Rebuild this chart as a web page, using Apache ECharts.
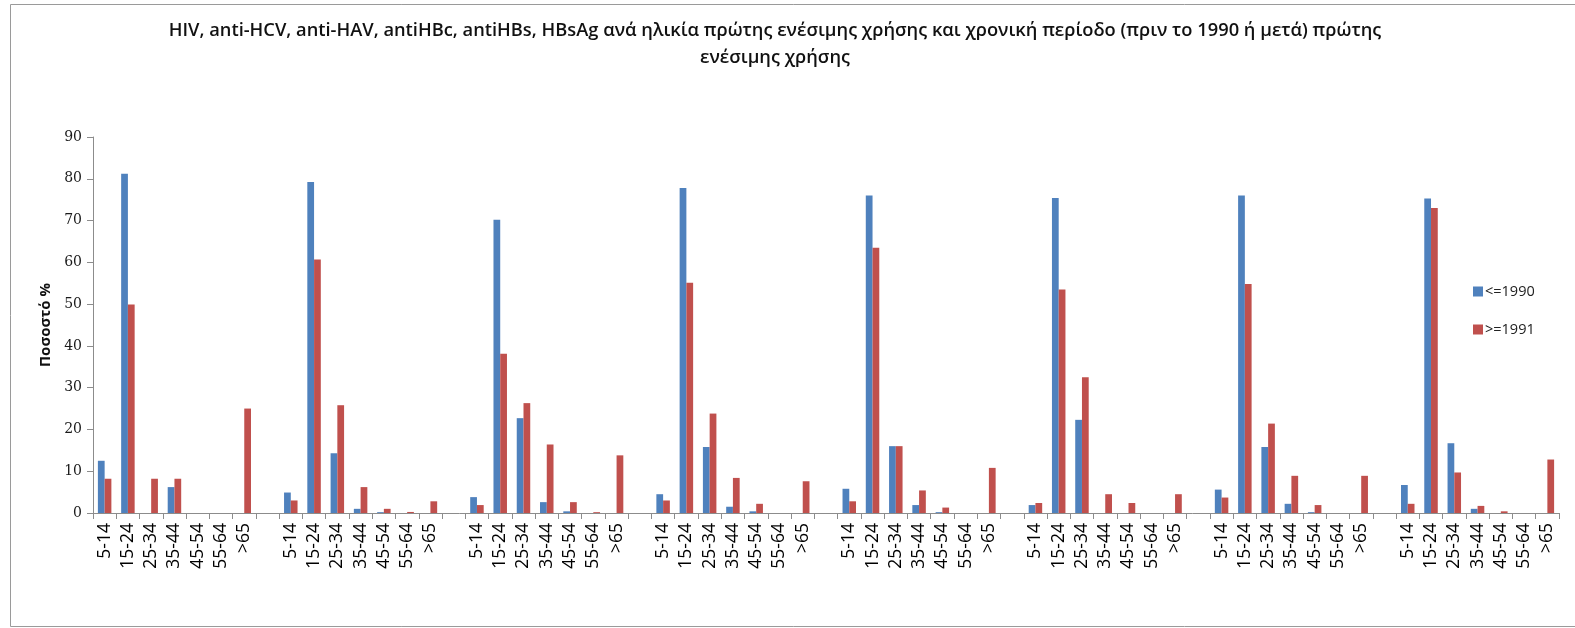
<!DOCTYPE html>
<html>
<head>
<meta charset="utf-8">
<script src="https://cdn.jsdelivr.net/npm/echarts@6/dist/echarts.min.js"></script>
<style>
  html, body { margin: 0; padding: 0; background: #fff; }
  #chart { width: 1575px; height: 628px; }
</style>
</head>
<body>
<div id="chart"></div>
<script>
// Age at first injection, repeated once per marker group
const ageBands = ['5-14', '15-24', '25-34', '35-44', '45-54', '55-64', '>65'];

// Percent per age band, first injection up to 1990 (one row per group)
const upTo1990 = [
  [12.5, 81.2, 0, 6.2, 0, 0, 0],
  [4.9, 79.2, 14.3, 1.0, 0.2, 0, 0],
  [3.8, 70.2, 22.7, 2.6, 0.4, 0, 0],
  [4.5, 77.8, 15.8, 1.5, 0.4, 0, 0],
  [5.8, 76.0, 16.0, 1.9, 0.2, 0, 0],
  [1.9, 75.4, 22.3, 0, 0, 0, 0],
  [5.6, 76.0, 15.8, 2.2, 0.2, 0, 0],
  [6.7, 75.3, 16.7, 1.0, 0, 0, 0]
];

// Percent per age band, first injection from 1991 on
const from1991 = [
  [8.2, 49.9, 8.2, 8.2, 0, 0, 25.0],
  [3.0, 60.7, 25.8, 6.2, 1.0, 0.25, 2.8],
  [1.9, 38.1, 26.3, 16.4, 2.6, 0.2, 13.8],
  [3.0, 55.1, 23.8, 8.4, 2.2, 0, 7.6],
  [2.8, 63.5, 16.0, 5.4, 1.3, 0, 10.8],
  [2.4, 53.5, 32.5, 4.5, 2.4, 0, 4.5],
  [3.7, 54.8, 21.4, 8.9, 1.9, 0, 8.9],
  [2.2, 73.0, 9.7, 1.7, 0.4, 0, 12.8]
];

const seriesNames = ['<=1990', '>=1991'];
const yTicks = { min: 0, max: 90, interval: 10 };

const titleLines = [
  'HIV, anti-HCV, anti-HAV, antiHBc, antiHBs, HBsAg ανά ηλικία πρώτης ενέσιμης χρήσης και χρονική περίοδο (πριν το 1990 ή μετά) πρώτης',
  'ενέσιμης χρήσης'
];
const yAxisTitle = 'Ποσοστό %';

// Flatten the groups onto one category axis with an empty slot between groups
const categories = [];
const blueData = [];
const redData = [];
upTo1990.forEach((row, g) => {
  if (g > 0) { categories.push(''); blueData.push(null); redData.push(null); }
  ageBands.forEach((band, i) => {
    categories.push(band);
    blueData.push(row[i]);
    redData.push(from1991[g][i]);
  });
});

const chart = echarts.init(document.getElementById('chart'), null, { renderer: 'canvas' });

const sans = '"Open Sans", "Noto Sans", sans-serif';

chart.setOption({
  animation: false,
  backgroundColor: '#ffffff',
  graphic: [
    {
      type: 'rect',
      shape: { x: 10.5, y: 4.5, width: 1600, height: 622 },
      style: { fill: 'none', stroke: '#9a9a9a', lineWidth: 1 },
      silent: true
    },
    {
      type: 'text',
      style: {
        x: 775, y: 31, text: titleLines[0],
        align: 'center', verticalAlign: 'middle',
        font: '600 18.3px ' + sans, fill: '#111'
      }
    },
    {
      type: 'text',
      style: {
        x: 775, y: 58, text: titleLines[1],
        align: 'center', verticalAlign: 'middle',
        font: '600 18.3px ' + sans, fill: '#111'
      }
    }
  ],
  legend: {
    orient: 'vertical',
    left: 1468,
    top: 279,
    itemWidth: 10,
    itemHeight: 10,
    itemGap: 23,
    icon: 'rect',
    textStyle: { fontFamily: sans, fontSize: 14.5, color: '#222', padding: [0, 0, 0, -3] },
    data: seriesNames
  },
  grid: { left: 93, right: 16, top: 137, bottom: 115, containLabel: false },
  xAxis: {
    type: 'category',
    data: categories,
    boundaryGap: true,
    axisLine: { lineStyle: { color: '#8c8c8c', width: 1 } },
    axisTick: { show: true, interval: 0, length: 6, lineStyle: { color: '#8c8c8c' } },
    axisLabel: {
      interval: 0, rotate: 90, margin: 10,
      fontFamily: sans, fontSize: 17.5, color: '#000'
    },
    splitLine: { show: false }
  },
  yAxis: {
    type: 'value',
    min: yTicks.min,
    max: yTicks.max,
    interval: yTicks.interval,
    name: yAxisTitle,
    nameLocation: 'middle',
    nameGap: 40,
    nameRotate: 90,
    nameTextStyle: { fontFamily: sans, fontSize: 15, fontWeight: 'bold', color: '#111' },
    axisLine: { show: true, lineStyle: { color: '#8c8c8c', width: 1 } },
    axisTick: { show: true, length: 6, lineStyle: { color: '#8c8c8c' } },
    axisLabel: { margin: 11, fontFamily: '"DejaVu Serif", serif', fontSize: 14, color: '#1a1a1a' },
    splitLine: { show: false }
  },
  series: [
    {
      name: seriesNames[0],
      type: 'bar',
      data: blueData,
      barWidth: '29%',
      barGap: '0%',
      itemStyle: { color: '#4F81BD' }
    },
    {
      name: seriesNames[1],
      type: 'bar',
      data: redData,
      barWidth: '29%',
      barGap: '0%',
      itemStyle: { color: '#C0504D' }
    }
  ]
});
</script>
</body>
</html>
